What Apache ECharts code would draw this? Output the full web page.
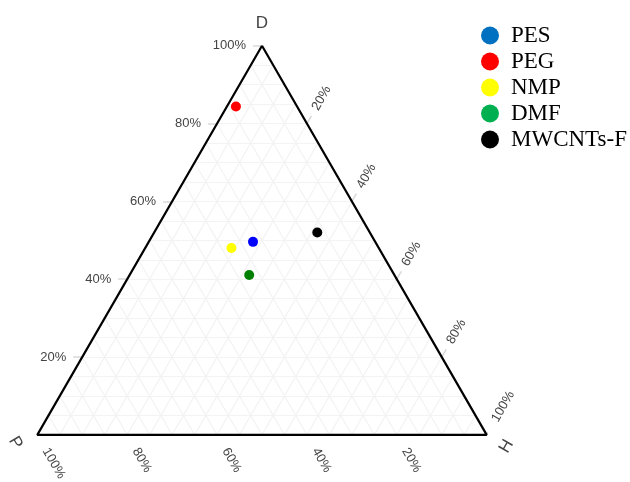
<!DOCTYPE html>
<html>
<head>
<meta charset="utf-8">
<script src="https://cdn.jsdelivr.net/npm/echarts@6/dist/echarts.min.js"></script>
<style>
  html, body { margin: 0; padding: 0; background: #fff; }
  #chart { width: 630px; height: 482px; }
</style>
</head>
<body>
<div id="chart"></div>
<script>
// Hansen solubility fractions (%) per component: D (dispersion), P (polar), H (hydrogen bonding)
const categories = ['PES', 'PEG', 'NMP', 'DMF', 'MWCNTs-F'];
const dValues = [49.6, 84.4, 48.0, 41.1, 52.0];
const pValues = [27.2, 13.6, 32.8, 32.3, 11.7];
const hValues = [23.2, 2.0, 19.2, 26.6, 36.3];

const markerColors = ['#0000ff', '#ff0000', '#ffff00', '#008000', '#000000'];
const legendColors = ['#0070c0', '#ff0000', '#ffff00', '#00b050', '#000000'];

const tickValues = [20, 40, 60, 80, 100];
const tickLabels = ['20%', '40%', '60%', '80%', '100%'];
const axisTitles = ['D', 'P', 'H'];
const gridStep = 5;

// ternary (D, P, H) -> plane coordinates of an equilateral triangle
// with P at (0,0), H at (1,0) and D at (0.5, sqrt(3)/2)
const SQ = Math.sqrt(3) / 2;
function toXY(d, p, h) {
  const s = d + p + h;
  d /= s; p /= s; h /= s;
  return [h + d / 2, d * SQ];
}

// background grid: lines of constant D, P and H
const gridSegs = [];
for (let v = gridStep; v < 100; v += gridStep) {
  gridSegs.push({ coords: [toXY(v, 100 - v, 0), toXY(v, 0, 100 - v)] });
  gridSegs.push({ coords: [toXY(100 - v, v, 0), toXY(0, v, 100 - v)] });
  gridSegs.push({ coords: [toXY(100 - v, 0, v), toXY(0, 100 - v, v)] });
}

// tick marks extend outward along the constant-value lines
const TICK = 2;       // tick length, in percent units
const LABEL_AT = 3.6; // start of rotated labels, in percent units
const tickSegs = [];
const dLabelPts = [], pLabelPts = [], hLabelPts = [];
tickValues.forEach((v, i) => {
  tickSegs.push({ coords: [toXY(v, 100 - v, 0), toXY(v, 100 - v + TICK, -TICK)] });
  tickSegs.push({ coords: [toXY(0, v, 100 - v), toXY(-TICK, v, 100 - v + TICK)] });
  tickSegs.push({ coords: [toXY(100 - v, 0, v), toXY(100 - v + TICK, -TICK, v)] });
  dLabelPts.push({ name: tickLabels[i], value: toXY(v, 100 - v + TICK, -TICK) });
  pLabelPts.push({ name: tickLabels[i], value: toXY(-LABEL_AT, v, 100 - v + LABEL_AT) });
  hLabelPts.push({ name: tickLabels[i], value: toXY(100 - v + LABEL_AT, -LABEL_AT, v) });
});

const border = [toXY(100, 0, 0), toXY(0, 100, 0), toXY(0, 0, 100), toXY(100, 0, 0)];

const tickFont = { fontFamily: 'Liberation Sans', fontSize: 13, color: '#444' };
const titleFont = { fontFamily: 'Liberation Sans', fontSize: 17, color: '#444' };

function labelSeries(data, label) {
  return {
    type: 'scatter', data: data, symbolSize: 0, silent: true, clip: false, z: 4,
    itemStyle: { opacity: 1 },
    label: Object.assign({ show: true, formatter: p => p.name }, tickFont, label)
  };
}

const series = [
  {
    type: 'lines', coordinateSystem: 'cartesian2d', data: gridSegs, silent: true, z: 1,
    lineStyle: { color: '#f3f3f3', width: 1.2, opacity: 1 }
  },
  {
    type: 'lines', coordinateSystem: 'cartesian2d', data: tickSegs, silent: true, z: 2,
    lineStyle: { color: '#d8d8d8', width: 1.5, opacity: 1 }
  },
  {
    type: 'line', data: border, symbol: 'none', silent: true, clip: false, z: 3,
    lineStyle: { color: '#000', width: 2.2 }
  },
  labelSeries(dLabelPts, { position: 'left', distance: 7 }),
  labelSeries(pLabelPts, { position: 'inside', align: 'left', verticalAlign: 'middle', rotate: -60 }),
  labelSeries(hLabelPts, { position: 'inside', align: 'left', verticalAlign: 'middle', rotate: 60 }),
  {
    type: 'scatter', symbolSize: 0, silent: true, clip: false, z: 4,
    itemStyle: { opacity: 1 },
    data: [
      { name: axisTitles[0], value: toXY(100, 0, 0),
        label: { position: 'top', distance: 14 } },
      // offsets are given in the rotated frame of each label
      { name: axisTitles[1], value: toXY(0, 100, 0),
        label: { position: 'inside', offset: [-4, 23], rotate: -60 } },
      { name: axisTitles[2], value: toXY(0, 0, 100),
        label: { position: 'inside', offset: [0, 23], rotate: 60 } }
    ],
    label: Object.assign({ show: true, formatter: p => p.name }, titleFont)
  }
];

categories.forEach((name, i) => {
  series.push({
    type: 'scatter', name: name, z: 5, clip: false, symbolSize: 10,
    itemStyle: { color: markerColors[i], opacity: 1 },
    data: [toXY(dValues[i], pValues[i], hValues[i])]
  });
});

const chart = echarts.init(document.getElementById('chart'), null, { renderer: 'canvas' });
chart.setOption({
  animation: false,
  backgroundColor: '#fff',
  grid: { left: 37.3, top: 45.7, width: 449.4, height: 449.4 * SQ },
  xAxis: { type: 'value', min: 0, max: 1, show: false },
  yAxis: { type: 'value', min: 0, max: SQ, show: false },
  legend: {
    orient: 'vertical', left: 481, top: 24, padding: 0,
    itemWidth: 18, itemHeight: 18, itemGap: 3, icon: 'circle',
    textStyle: { fontFamily: 'Liberation Serif', fontSize: 23, color: '#000', padding: [0, 0, 0, 7] },
    data: categories.map((name, i) => ({ name: name, itemStyle: { color: legendColors[i], opacity: 1 } }))
  },
  series: series
});
</script>
</body>
</html>
